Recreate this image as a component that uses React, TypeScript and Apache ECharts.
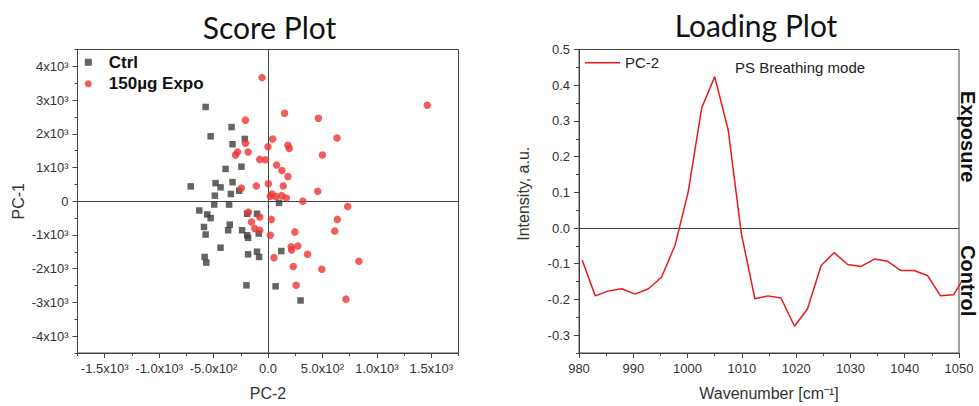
import React, { useEffect, useRef } from "react";
import * as echarts from "echarts";

// ---- Score plot data (PC-2 on x, PC-1 on y) ----
const ctrlX = [-573, -527, -335, -213, -326, -244, -390, -710, -482, -436, -326, -341, -488, -265, -494, -357, -631, -558, -527, -192, -101, -588, -573, -351, -366, -238, -192, -183, -85, -436, -183, -101, -82, -582, -567, -198, 70, 122, 101, 299];
const ctrlY = [2796, 1926, 2199, 1848, 1691, 1026, 958, 440, 538, 411, 567, 215, 166, 313, -98, -98, -274, -391, -499, -371, -371, -762, -987, -694, -860, -860, -1007, -1085, -958, -1378, -1574, -1496, -1652, -1652, -1818, -2493, -2522, -1476, -49, -2942];
const expoX = [-55, 1463, 152, 463, -207, 634, 43, -207, 0, 183, 195, -280, -183, -299, 500, -76, -24, 79, 128, 183, -244, -107, 3, 140, 457, 37, 21, 73, 125, 168, 320, 732, -180, -76, 30, 637, -152, -122, -76, 247, 613, 21, 213, 274, 216, 363, 835, 55, 232, 494, 259, 716];
const expoY = [3666, 2845, 2610, 2463, 2405, 1877, 1848, 1720, 1613, 1662, 1564, 1457, 1457, 1369, 1369, 1241, 1232, 1075, 909, 733, 391, 450, 518, 450, 293, 215, 147, 137, 166, 98, 0, -156, -323, -469, -538, -538, -616, -811, -860, -909, -880, -1007, -1349, -1329, -1447, -1574, -1779, -1672, -1935, -2014, -2493, -2903];

// ---- Loading plot data ----
const wavenumbers = [980.6, 983.0, 985.4, 987.9, 990.3, 992.8, 995.2, 997.7, 1000.1, 1002.6, 1005.0, 1007.5, 1009.9, 1012.4, 1014.8, 1017.2, 1019.7, 1022.1, 1024.6, 1027.0, 1029.5, 1031.9, 1034.4, 1036.8, 1039.3, 1041.7, 1044.2, 1046.6, 1049.0, 1051.5];
const pc2Loading = [-0.09, -0.19, -0.176, -0.17, -0.185, -0.17, -0.138, -0.048, 0.1, 0.336, 0.424, 0.273, -0.015, -0.198, -0.19, -0.196, -0.275, -0.226, -0.105, -0.069, -0.102, -0.108, -0.087, -0.093, -0.119, -0.119, -0.133, -0.19, -0.187, -0.125];

// ---- Ticks and labels ----
const scoreXTicks = [-1500, -1000, -500, 0, 500, 1000, 1500];
const scoreXTickLabels = ["-1.5x10³", "-1.0x10³", "-5.0x10²", "0.0", "5.0x10²", "1.0x10³", "1.5x10³"];
const scoreXMinorTicks = [-1750, -1250, -750, -250, 250, 750, 1250, 1750];
const scoreYTicks = [-4000, -3000, -2000, -1000, 0, 1000, 2000, 3000, 4000];
const scoreYTickLabels = ["-4x10³", "-3x10³", "-2x10³", "-1x10³", "0", "1x10³", "2x10³", "3x10³", "4x10³"];
const scoreYMinorTicks = [-4500, -3500, -2500, -1500, -500, 500, 1500, 2500, 3500, 4500];
const loadXTicks = [980, 990, 1000, 1010, 1020, 1030, 1040, 1050];
const loadXTickLabels = ["980", "990", "1000", "1010", "1020", "1030", "1040", "1050"];
const loadXMinorTicks = [985, 995, 1005, 1015, 1025, 1035, 1045];
const loadYTicks = [-0.3, -0.2, -0.1, 0, 0.1, 0.2, 0.3, 0.4, 0.5];
const loadYTickLabels = ["-0.3", "-0.2", "-0.1", "0.0", "0.1", "0.2", "0.3", "0.4", "0.5"];
const loadYMinorTicks = [-0.35, -0.25, -0.15, -0.05, 0.05, 0.15, 0.25, 0.35, 0.45];

const FONT = "'Liberation Sans', Arial, sans-serif";
const AXIS_COLOR = "#444";
const TEXT_COLOR = "#333";

function labelFor(ticks: number[], labels: string[]) {
  return (v: number) => {
    const i = ticks.findIndex((t) => Math.abs(t - v) < 1e-9);
    return i >= 0 ? labels[i] : "";
  };
}

function majorAxis(gridIndex: number, position: string, min: number, max: number, ticks: number[], labels: string[], extra: any) {
  return {
    type: "value",
    gridIndex,
    position,
    min,
    max,
    axisLine: { show: true, onZero: false, lineStyle: { color: AXIS_COLOR, width: 1 } },
    axisTick: { show: true, inside: false, length: 5, customValues: ticks, lineStyle: { color: AXIS_COLOR } },
    axisLabel: {
      show: true,
      customValues: ticks,
      formatter: labelFor(ticks, labels),
      color: TEXT_COLOR,
      fontFamily: FONT,
      fontSize: 13,
      margin: 9,
    },
    splitLine: { show: false },
    nameLocation: "middle",
    nameTextStyle: { fontFamily: FONT, fontSize: 16, color: TEXT_COLOR },
    ...extra,
  };
}

function minorAxis(gridIndex: number, position: string, min: number, max: number, ticks: number[]) {
  return {
    type: "value",
    gridIndex,
    position,
    offset: 0,
    min,
    max,
    axisLine: { show: false, onZero: false },
    axisTick: { show: true, inside: false, length: 3, customValues: ticks, lineStyle: { color: AXIS_COLOR } },
    axisLabel: { show: false, customValues: ticks },
    splitLine: { show: false },
  };
}

export default function App() {
  const ref = useRef<HTMLDivElement>(null);

  useEffect(() => {
    document.body.style.margin = "0";
    if (!ref.current) return;
    const chart = echarts.init(ref.current, undefined, { renderer: "svg" });

    const ctrlData = ctrlX.map((x, i) => [x, ctrlY[i]]);
    const expoData = expoX.map((x, i) => [x, expoY[i]]);
    const loadData = wavenumbers.map((x, i) => [x, pc2Loading[i]]);

    const option: any = {
      animation: false,
      backgroundColor: "#fff",
      grid: [
        { left: 77.5, top: 49.5, width: 381, height: 306.5, show: true, borderColor: AXIS_COLOR, borderWidth: 1, backgroundColor: "transparent" },
        { left: 579, top: 49.5, width: 380, height: 306.5, show: true, borderColor: AXIS_COLOR, borderWidth: 1, backgroundColor: "transparent" },
      ],
      xAxis: [
        majorAxis(0, "bottom", -1750, 1750, scoreXTicks, scoreXTickLabels, { name: "PC-2", nameGap: 32 }),
        minorAxis(0, "bottom", -1750, 1750, scoreXMinorTicks),
        majorAxis(1, "bottom", 980, 1050, loadXTicks, loadXTickLabels, { name: "Wavenumber [cm⁻¹]", nameGap: 32 }),
        minorAxis(1, "bottom", 980, 1050, loadXMinorTicks),
      ],
      yAxis: [
        majorAxis(0, "left", -4500, 4500, scoreYTicks, scoreYTickLabels, { name: "PC-1", nameGap: 51, nameRotate: 90 }),
        minorAxis(0, "left", -4500, 4500, scoreYMinorTicks),
        majorAxis(1, "left", -0.35, 0.5, loadYTicks, loadYTickLabels, {
          name: "Intensity, a.u.",
          nameGap: 48,
          nameRotate: 90,
          nameTextStyle: { fontFamily: FONT, fontSize: 16, color: TEXT_COLOR, padding: [0, 0, 0, 15] },
        }),
        minorAxis(1, "left", -0.35, 0.5, loadYMinorTicks),
      ],
      legend: [
        {
          data: ["Ctrl", "150µg Expo"],
          orient: "vertical",
          left: 84.8,
          top: 51.8,
          itemWidth: 7,
          itemHeight: 7,
          itemGap: 0.5,
          padding: 0,
          selectedMode: false,
          textStyle: { fontFamily: FONT, fontSize: 17, fontWeight: "bold", color: "#111", lineHeight: 21, padding: [0, 0, 0, 12] },
        },
        {
          data: [{ name: "PC-2", icon: "rect" }],
          orient: "vertical",
          left: 585,
          top: 54.7,
          itemWidth: 35,
          itemHeight: 1.6,
          padding: 0,
          selectedMode: false,
          textStyle: { fontFamily: FONT, fontSize: 15, color: "#222", lineHeight: 16 },
        },
      ],
      graphic: [
        { type: "text", x: 269.5, y: 26.5, style: { text: "Score Plot", font: "30px Lato, 'Open Sans', sans-serif", fill: "#111", align: "center", verticalAlign: "middle" } },
        { type: "text", x: 756, y: 25, style: { text: "Loading Plot", font: "30px Lato, 'Open Sans', sans-serif", fill: "#111", align: "center", verticalAlign: "middle" } },
        { type: "text", x: 735, y: 67.7, style: { text: "PS Breathing mode", font: "15px 'Liberation Sans', Arial, sans-serif", fill: "#222", align: "left", verticalAlign: "middle" } },
        { type: "text", x: 967.5, y: 136.7, rotation: -Math.PI / 2, style: { text: "Exposure", font: "bold 20px 'Liberation Sans', Arial, sans-serif", fill: "#111", align: "center", verticalAlign: "middle" } },
        { type: "text", x: 967.5, y: 280.7, rotation: -Math.PI / 2, style: { text: "Control", font: "bold 20px 'Liberation Sans', Arial, sans-serif", fill: "#111", align: "center", verticalAlign: "middle" } },
      ],
      series: [
        {
          name: "Ctrl",
          type: "scatter",
          xAxisIndex: 0,
          yAxisIndex: 0,
          symbol: "rect",
          symbolSize: 6.5,
          itemStyle: { color: "#3d3d3d" },
          data: ctrlData,
          z: 3,
          markLine: {
            silent: true,
            symbol: "none",
            z: 1,
            label: { show: false },
            lineStyle: { color: AXIS_COLOR, width: 1, type: "solid" },
            data: [{ xAxis: 0 }, { yAxis: 0 }],
          },
        },
        {
          name: "150µg Expo",
          type: "scatter",
          xAxisIndex: 0,
          yAxisIndex: 0,
          symbol: "circle",
          symbolSize: 7.5,
          itemStyle: { color: "#ee3434" },
          data: expoData,
          z: 4,
        },
        {
          name: "PC-2",
          type: "line",
          xAxisIndex: 2,
          yAxisIndex: 2,
          symbol: "none",
          showSymbol: false,
          clip: true,
          lineStyle: { color: "#e8191f", width: 1.5 },
          itemStyle: { color: "#e8191f" },
          data: loadData,
          z: 3,
          markLine: {
            silent: true,
            symbol: "none",
            z: 1,
            label: { show: false },
            lineStyle: { color: AXIS_COLOR, width: 1, type: "solid" },
            data: [{ yAxis: 0 }],
          },
        },
      ],
    };

    chart.setOption(option);
    return () => chart.dispose();
  }, []);

  return <div ref={ref} style={{ width: 979, height: 406 }} />;
}
